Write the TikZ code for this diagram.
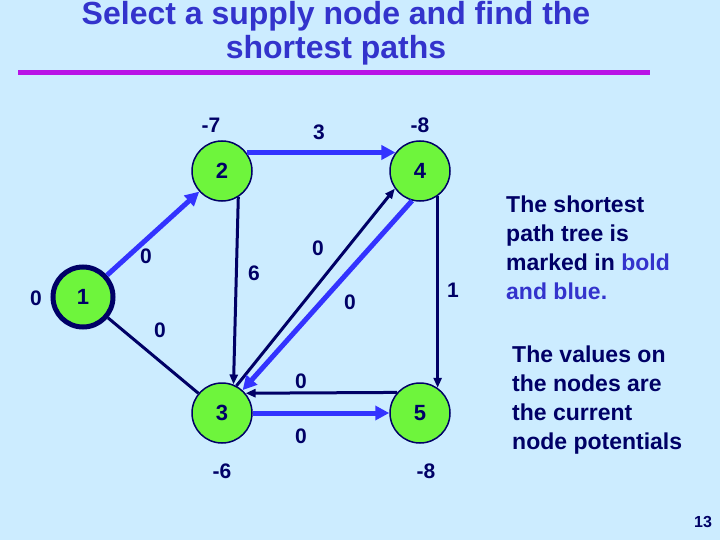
\documentclass[tikz,border=0pt]{standalone}
\usepackage{fontspec}
\setmainfont{Liberation Sans}
\usetikzlibrary{arrows.meta}
\definecolor{bg}{RGB}{204,236,255}
\definecolor{titleblue}{RGB}{51,51,204}
\definecolor{navy}{RGB}{0,0,102}
\definecolor{edgeblue}{RGB}{51,51,255}
\definecolor{nodegreen}{RGB}{110,245,60}
\definecolor{rulemag}{RGB}{185,20,230}
\tikzset{
  vertex/.style={circle,draw=navy,line width=1.5pt,fill=nodegreen,minimum size=60pt,inner sep=0pt,text=navy,font=\fontsize{22}{22}\selectfont\bfseries},
  lab/.style={text=navy,font=\fontsize{21}{21}\selectfont\bfseries,inner sep=0pt},
  tree/.style={draw=edgeblue,line width=5pt,-{Triangle[length=14pt,width=14pt]}},
  arc/.style={draw=navy,line width=3pt,-{Triangle[length=10pt,width=8pt]}},
  plainarc/.style={draw=navy,line width=3pt},
  note/.style={text=navy,font=\fontsize{23}{29}\selectfont\bfseries,align=left,anchor=north west,inner sep=0pt}
}
\begin{document}
\begin{tikzpicture}[x=1pt,y=-1pt]
\fill[bg] (0,0) rectangle (720,540);
\useasboundingbox (0,0) rectangle (720,540);
% title
\node[text=titleblue,font=\fontsize{32}{34}\selectfont\bfseries,align=center,anchor=north,inner sep=0pt] (title) at (336,1) {Select a supply node and find the\\shortest paths};
\draw[rulemag,line width=5pt] (18,72.5) -- (650,72.5);
% vertices
\node[vertex,line width=5pt,minimum size=60pt] (n1) at (83,297) {1};
\node[vertex] (n2) at (222,171) {2};
\node[vertex] (n3) at (222,413) {3};
\node[vertex] (n4) at (420,171) {4};
\node[vertex] (n5) at (420,413) {5};
% arcs
\draw[plainarc] (n1) -- (n3);
\draw[arc] (n2.-58) -- (n3.68);
\draw[arc] (n3.62) -- (n4.215);
\draw[arc] (n4.-55) -- (n5.55);
\draw[arc] (n5.138) -- (n3.40);
\draw[tree] (n1) -- (n2);
\draw[tree] (n2.37) -- (n4.143);
\draw[tree] (n4.255) -- (n3.48);
\draw[tree] (n3.east) -- (n5.west);
% arc labels
\node[lab] (l12) at (146,256) {0};
\node[lab] (l24) at (319,132) {3};
\node[lab] (l23) at (254,273) {6};
\node[lab] (l13) at (160,330) {0};
\node[lab] (l34) at (318,248) {0};
\node[lab] (l43) at (350,302) {0};
\node[lab] (l45) at (453,290) {1};
\node[lab] (l53) at (301,381) {0};
\node[lab] (l35) at (301,436) {0};
% potentials
\node[lab] (p2) at (211,125) {-7};
\node[lab] (p4) at (420,125) {-8};
\node[lab] (p1) at (36,298) {0};
\node[lab] (p3) at (222,471) {-6};
\node[lab] (p5) at (426,471) {-8};
% notes
\node[note] (note1) at (506,196) {The shortest\\path tree is\\marked in \textcolor{titleblue}{bold}\\\textcolor{titleblue}{and blue.}};
\node[note] (note2) at (512,346) {The values on\\the nodes are\\the current\\node potentials};
\node[text=navy,font=\fontsize{16}{16}\selectfont\bfseries,inner sep=0pt] (page) at (703,522) {13};
\end{tikzpicture}
\end{document}
